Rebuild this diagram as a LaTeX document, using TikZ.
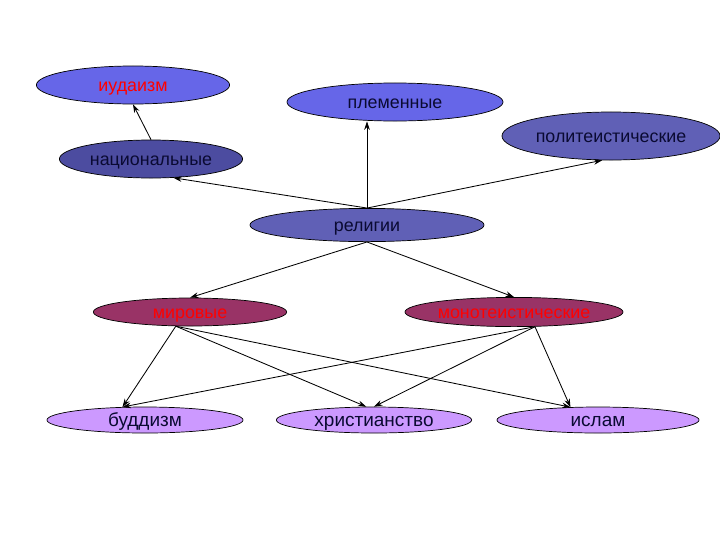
\documentclass[tikz,border=0pt]{standalone}
\usepackage{fontspec}
\setmainfont{Liberation Sans}
\usetikzlibrary{shapes,arrows,arrows.meta,positioning}

\definecolor{brightblue}{RGB}{102,102,232}
\definecolor{slateblue}{RGB}{96,96,182}
\definecolor{darkslate}{RGB}{76,76,160}
\definecolor{maroon}{RGB}{153,51,102}
\definecolor{lavender}{RGB}{204,153,255}
\definecolor{navytext}{RGB}{10,10,50}

\tikzset{
    oval/.style={ellipse, draw=black, line width=0.5pt, inner sep=0pt,
        text height=1.85ex, text depth=0.2ex,
        font=\fontsize{12.7}{14}\selectfont, text=navytext},
    leaf/.style={oval, fill=lavender, minimum height=0.65cm,
        font=\fontsize{13.5}{15}\selectfont},
    link/.style={-{Stealth[length=6pt,width=4pt]}, line width=0.6pt}
}

\begin{document}
\begin{tikzpicture}[x=0.025cm, y=-0.025cm]
\useasboundingbox (0,0) rectangle (720,540);
% upper level
\node[oval, fill=brightblue, text=red, minimum width=4.83cm, minimum height=0.95cm]
    (jud) at (133,85) {иудаизм};
\node[oval, fill=brightblue, minimum width=5.4cm, minimum height=0.95cm]
    (trib) at (395,102) {племенные};
\node[oval, fill=slateblue, minimum width=5.45cm, minimum height=1.2cm]
    (poly) at (611,136) {политеистические};
\node[oval, fill=darkslate, minimum width=4.58cm, minimum height=0.95cm]
    (nat) at (151,159) {национальные};
\node[oval, fill=slateblue, minimum width=5.85cm, minimum height=0.83cm]
    (rel) at (367,225) {религии};
% middle level
\node[oval, fill=maroon, text=red, minimum width=4.83cm, minimum height=0.7cm]
    (world) at (190,312) {мировые};
\node[oval, fill=maroon, text=red, minimum width=5.45cm, minimum height=0.73cm]
    (mono) at (514,312) {монотеистические};
% lower level
\node[leaf, minimum width=4.9cm] (budd) at (145,420) {буддизм};
\node[leaf, minimum width=4.88cm] (chr) at (374,420) {христианство};
\node[leaf, minimum width=5.05cm] (isl) at (598,420) {ислам};

\draw[link] (nat.north) -- (jud.south);
\draw[link] (rel.north) -- (rel.north |- trib.south);
\draw[link] (rel.north) -- (nat.-40);
\draw[link] (rel.north) -- (poly.-110);
\draw[link] (rel.south) -- (world.north);
\draw[link] (rel.south) -- (mono.north);
\foreach \src/\ang in {world/-135, mono/-35} {
    \draw[link] (\src.\ang) -- (budd.150);
    \draw[link] (\src.\ang) -- (isl.155);
}
\draw[link] (world.-135) -- (chr.120);
\draw[link] (mono.-35) -- (chr.north);
\end{tikzpicture}
\end{document}
